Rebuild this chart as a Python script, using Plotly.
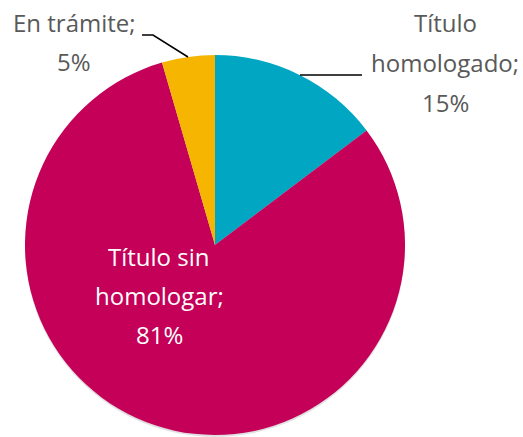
import plotly.graph_objects as go

categories = ["Título homologado", "Título sin homologar", "En trámite"]
shares = [14.7, 80.8, 4.5]
pct_labels = ["15%", "81%", "5%"]
colors = ["#00A6C2", "#C40058", "#F5B500"]

W, H = 523, 437
cx, cy, r = 215, 245, 190

def px(x):
    return x / W

def py(y):
    return min(1.0, max(0.0, 1 - y / H))

fig = go.Figure()
# soft shadow under the pie
fig.add_trace(go.Pie(
    labels=["sombra"], values=[sum(shares)], sort=False, textinfo="none", hoverinfo="skip",
    marker=dict(colors=["rgba(0,0,0,0.12)"], line=dict(width=0)),
    domain=dict(x=[px(cx - r), px(cx + r)], y=[py(cy + r + 2), py(cy - r + 2)]),
    showlegend=False,
))
fig.add_trace(go.Pie(
    labels=categories, values=shares, sort=False, direction="clockwise",
    rotation=0, textinfo="none", hoverinfo="label+percent",
    marker=dict(colors=colors, line=dict(width=0)),
    domain=dict(x=[px(cx - r), px(cx + r)], y=[py(cy + r), py(cy - r)]),
    showlegend=False,
))

font_out = dict(family="Open Sans", size=24, color="#595959")
font_in = dict(family="Open Sans", size=24, color="#FFFFFF")

def add_lines(lines, x, ys, font):
    for t, y in zip(lines, ys):
        fig.add_annotation(text=t, x=px(x), y=py(y), xref="paper", yref="paper",
                           showarrow=False, xanchor="center", yanchor="middle", font=font)

add_lines(["Título", "homologado;", pct_labels[0]], 445, [23, 63, 102], font_out)
add_lines(["Título sin", "homologar;", pct_labels[1]], 159, [256, 295, 334], font_in)
add_lines(["En trámite;", pct_labels[2]], 74, [23, 62], font_out)

# leader lines
fig.add_shape(type="path", xref="paper", yref="paper",
              path=f"M {px(300)} {py(75)} L {px(362)} {py(75)}",
              line=dict(color="#000000", width=1.5))
fig.add_shape(type="path", xref="paper", yref="paper",
              path=f"M {px(142)} {py(35)} L {px(153)} {py(35)} L {px(188)} {py(57)}",
              line=dict(color="#000000", width=1.5))

fig.update_layout(width=W, height=H, margin=dict(l=0, r=0, t=0, b=0),
                  paper_bgcolor="white", plot_bgcolor="white")
fig.write_html("out.html", config={"displayModeBar": False},
               post_script="document.body.style.margin='0';document.body.style.padding='0';")
